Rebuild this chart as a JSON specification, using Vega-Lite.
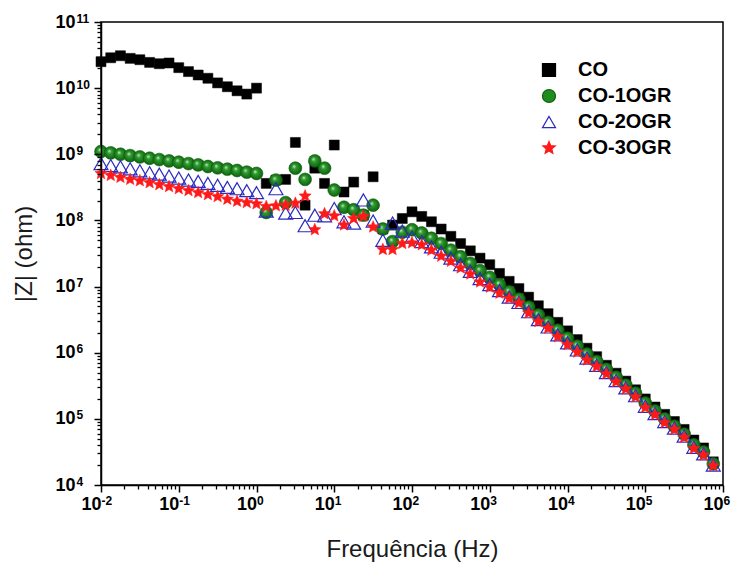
{
  "$schema": "https://vega.github.io/schema/vega-lite/v6.json",
  "width": 622,
  "height": 463,
  "autosize": {"type": "none"},
  "padding": {"left": 101, "top": 22, "right": 17, "bottom": 85},
  "background": "white",
  "config": {
    "view": {"stroke": "#000", "strokeWidth": 1.5},
    "font": "Liberation Sans",
    "axis": {
      "grid": false, "zindex": 1,
      "labelFont": "Liberation Sans", "labelFontWeight": "bold", "labelFontSize": 18, "labelColor": "#000",
      "titleFont": "Liberation Sans", "titleFontWeight": "normal", "titleFontSize": 24, "titleColor": "#1a1a1a",
      "labelOverlap": false
    }
  },
  "resolve": {"axis": {"x": "independent", "y": "independent"}},
  "data": {"values": [
    {"s":"CO","f":0.01,"z":2.51e10},{"s":"CO","f":0.01334,"z":2.88e10},{"s":"CO","f":0.01778,"z":3.09e10},{"s":"CO","f":0.02371,"z":2.82e10},
    {"s":"CO","f":0.03162,"z":2.69e10},{"s":"CO","f":0.04217,"z":2.45e10},{"s":"CO","f":0.05623,"z":2.34e10},{"s":"CO","f":0.07499,"z":2.40e10},
    {"s":"CO","f":0.1,"z":2.04e10},{"s":"CO","f":0.1334,"z":1.78e10},{"s":"CO","f":0.1778,"z":1.58e10},{"s":"CO","f":0.2371,"z":1.41e10},
    {"s":"CO","f":0.3162,"z":1.20e10},{"s":"CO","f":0.4217,"z":1.05e10},{"s":"CO","f":0.5623,"z":9.12e9},{"s":"CO","f":0.7499,"z":8.13e9},
    {"s":"CO","f":1,"z":1.0e10},{"s":"CO","f":1.334,"z":3.63e8},{"s":"CO","f":1.778,"z":4.07e8},{"s":"CO","f":2.371,"z":4.17e8},
    {"s":"CO","f":3.162,"z":1.51e9},{"s":"CO","f":4.217,"z":1.70e8},{"s":"CO","f":5.623,"z":6.17e8},{"s":"CO","f":7.499,"z":3.63e8},
    {"s":"CO","f":10,"z":1.38e9},{"s":"CO","f":13.34,"z":2.69e8},{"s":"CO","f":17.78,"z":3.80e8},{"s":"CO","f":23.71,"z":1.2e8},
    {"s":"CO","f":31.62,"z":4.57e8},{"s":"CO","f":42.17,"z":7.41e7},{"s":"CO","f":56.23,"z":8.5e7},{"s":"CO","f":74.99,"z":1.07e8},
    {"s":"CO","f":100,"z":1.35e8},{"s":"CO","f":133.4,"z":1.15e8},{"s":"CO","f":177.8,"z":9.55e7},{"s":"CO","f":237.1,"z":7.41e7},
    {"s":"CO","f":316.2,"z":5.75e7},{"s":"CO","f":421.7,"z":4.47e7},{"s":"CO","f":562.3,"z":3.47e7},{"s":"CO","f":749.9,"z":2.69e7},
    {"s":"CO","f":1000,"z":2.14e7},{"s":"CO","f":1334,"z":1.58e7},{"s":"CO","f":1778,"z":1.20e7},{"s":"CO","f":2371,"z":9.33e6},
    {"s":"CO","f":3162,"z":6.92e6},{"s":"CO","f":4217,"z":5.13e6},{"s":"CO","f":5623,"z":3.89e6},{"s":"CO","f":7499,"z":2.88e6},
    {"s":"CO","f":10000,"z":2.14e6},{"s":"CO","f":13335,"z":1.58e6},{"s":"CO","f":17783,"z":1.17e6},{"s":"CO","f":23714,"z":8.71e5},
    {"s":"CO","f":31623,"z":6.46e5},{"s":"CO","f":42170,"z":4.90e5},{"s":"CO","f":56234,"z":3.72e5},{"s":"CO","f":74989,"z":2.75e5},
    {"s":"CO","f":100000,"z":2.00e5},{"s":"CO","f":133352,"z":1.51e5},{"s":"CO","f":177828,"z":1.17e5},{"s":"CO","f":237137,"z":9.12e4},
    {"s":"CO","f":316228,"z":6.92e4},{"s":"CO","f":421697,"z":4.79e4},{"s":"CO","f":562341,"z":3.63e4},{"s":"CO","f":749894,"z":2.24e4},

    {"s":"CO-1OGR","f":0.01,"z":1.10e9},{"s":"CO-1OGR","f":0.01334,"z":1.05e9},{"s":"CO-1OGR","f":0.01778,"z":1.00e9},{"s":"CO-1OGR","f":0.02371,"z":9.55e8},
    {"s":"CO-1OGR","f":0.03162,"z":9.12e8},{"s":"CO-1OGR","f":0.04217,"z":8.71e8},{"s":"CO-1OGR","f":0.05623,"z":8.32e8},{"s":"CO-1OGR","f":0.07499,"z":7.94e8},
    {"s":"CO-1OGR","f":0.1,"z":7.59e8},{"s":"CO-1OGR","f":0.1334,"z":7.24e8},{"s":"CO-1OGR","f":0.1778,"z":6.92e8},{"s":"CO-1OGR","f":0.2371,"z":6.53e8},
    {"s":"CO-1OGR","f":0.3162,"z":6.24e8},{"s":"CO-1OGR","f":0.4217,"z":5.96e8},{"s":"CO-1OGR","f":0.5623,"z":5.69e8},{"s":"CO-1OGR","f":0.7499,"z":5.37e8},
    {"s":"CO-1OGR","f":1,"z":5.13e8},{"s":"CO-1OGR","f":1.334,"z":1.32e8},{"s":"CO-1OGR","f":1.778,"z":4.07e8},{"s":"CO-1OGR","f":2.371,"z":1.86e8},
    {"s":"CO-1OGR","f":3.162,"z":6.17e8},{"s":"CO-1OGR","f":4.217,"z":4.17e8},{"s":"CO-1OGR","f":5.623,"z":7.94e8},{"s":"CO-1OGR","f":7.499,"z":6.17e8},
    {"s":"CO-1OGR","f":10,"z":2.88e8},{"s":"CO-1OGR","f":13.34,"z":1.58e8},{"s":"CO-1OGR","f":17.78,"z":1.45e8},{"s":"CO-1OGR","f":23.71,"z":1.20e8},
    {"s":"CO-1OGR","f":31.62,"z":1.70e8},{"s":"CO-1OGR","f":42.17,"z":7.41e7},{"s":"CO-1OGR","f":56.23,"z":4.79e7},{"s":"CO-1OGR","f":74.99,"z":6.61e7},
    {"s":"CO-1OGR","f":100,"z":7.24e7},{"s":"CO-1OGR","f":133.4,"z":6.46e7},{"s":"CO-1OGR","f":177.8,"z":5.37e7},{"s":"CO-1OGR","f":237.1,"z":4.47e7},
    {"s":"CO-1OGR","f":316.2,"z":3.55e7},{"s":"CO-1OGR","f":421.7,"z":2.82e7},{"s":"CO-1OGR","f":562.3,"z":2.24e7},{"s":"CO-1OGR","f":749.9,"z":1.74e7},
    {"s":"CO-1OGR","f":1000,"z":1.38e7},{"s":"CO-1OGR","f":1334,"z":1.07e7},{"s":"CO-1OGR","f":1778,"z":8.32e6},{"s":"CO-1OGR","f":2371,"z":6.46e6},
    {"s":"CO-1OGR","f":3162,"z":4.90e6},{"s":"CO-1OGR","f":4217,"z":3.72e6},{"s":"CO-1OGR","f":5623,"z":2.88e6},{"s":"CO-1OGR","f":7499,"z":2.19e6},
    {"s":"CO-1OGR","f":10000,"z":1.66e6},{"s":"CO-1OGR","f":13335,"z":1.26e6},{"s":"CO-1OGR","f":17783,"z":9.55e5},{"s":"CO-1OGR","f":23714,"z":7.41e5},
    {"s":"CO-1OGR","f":31623,"z":5.62e5},{"s":"CO-1OGR","f":42170,"z":4.27e5},{"s":"CO-1OGR","f":56234,"z":3.24e5},{"s":"CO-1OGR","f":74989,"z":2.45e5},
    {"s":"CO-1OGR","f":100000,"z":1.74e5},{"s":"CO-1OGR","f":133352,"z":1.32e5},{"s":"CO-1OGR","f":177828,"z":1.00e5},{"s":"CO-1OGR","f":237137,"z":7.76e4},
    {"s":"CO-1OGR","f":316228,"z":5.89e4},{"s":"CO-1OGR","f":421697,"z":4.07e4},{"s":"CO-1OGR","f":562341,"z":3.16e4},{"s":"CO-1OGR","f":749894,"z":2.09e4},

    {"s":"CO-2OGR","f":0.01,"z":7.24e8},{"s":"CO-2OGR","f":0.01334,"z":6.76e8},{"s":"CO-2OGR","f":0.01778,"z":6.46e8},{"s":"CO-2OGR","f":0.02371,"z":6.03e8},
    {"s":"CO-2OGR","f":0.03162,"z":5.62e8},{"s":"CO-2OGR","f":0.04217,"z":5.25e8},{"s":"CO-2OGR","f":0.05623,"z":5.01e8},{"s":"CO-2OGR","f":0.07499,"z":4.68e8},
    {"s":"CO-2OGR","f":0.1,"z":4.37e8},{"s":"CO-2OGR","f":0.1334,"z":4.07e8},{"s":"CO-2OGR","f":0.1778,"z":3.89e8},{"s":"CO-2OGR","f":0.2371,"z":3.63e8},
    {"s":"CO-2OGR","f":0.3162,"z":3.39e8},{"s":"CO-2OGR","f":0.4217,"z":3.16e8},{"s":"CO-2OGR","f":0.5623,"z":3.02e8},{"s":"CO-2OGR","f":0.7499,"z":2.82e8},
    {"s":"CO-2OGR","f":1,"z":2.63e8},{"s":"CO-2OGR","f":1.334,"z":1.38e8},{"s":"CO-2OGR","f":1.778,"z":3.02e8},{"s":"CO-2OGR","f":2.371,"z":1.29e8},
    {"s":"CO-2OGR","f":3.162,"z":1.32e8},{"s":"CO-2OGR","f":4.217,"z":8.32e7},{"s":"CO-2OGR","f":5.623,"z":1.20e8},{"s":"CO-2OGR","f":7.499,"z":1.17e8},
    {"s":"CO-2OGR","f":10,"z":1.51e8},{"s":"CO-2OGR","f":13.34,"z":9.55e7},{"s":"CO-2OGR","f":17.78,"z":9.12e7},{"s":"CO-2OGR","f":23.71,"z":2.04e8},
    {"s":"CO-2OGR","f":31.62,"z":9.77e7},{"s":"CO-2OGR","f":42.17,"z":5.01e7},{"s":"CO-2OGR","f":56.23,"z":9.12e7},{"s":"CO-2OGR","f":74.99,"z":6.92e7},
    {"s":"CO-2OGR","f":100,"z":5.62e7},{"s":"CO-2OGR","f":133.4,"z":4.79e7},{"s":"CO-2OGR","f":177.8,"z":3.98e7},{"s":"CO-2OGR","f":237.1,"z":3.31e7},
    {"s":"CO-2OGR","f":316.2,"z":2.69e7},{"s":"CO-2OGR","f":421.7,"z":2.14e7},{"s":"CO-2OGR","f":562.3,"z":1.70e7},{"s":"CO-2OGR","f":749.9,"z":1.32e7},
    {"s":"CO-2OGR","f":1000,"z":1.07e7},{"s":"CO-2OGR","f":1334,"z":8.71e6},{"s":"CO-2OGR","f":1778,"z":6.92e6},{"s":"CO-2OGR","f":2371,"z":5.75e6},
    {"s":"CO-2OGR","f":3162,"z":4.17e6},{"s":"CO-2OGR","f":4217,"z":3.16e6},{"s":"CO-2OGR","f":5623,"z":2.45e6},{"s":"CO-2OGR","f":7499,"z":1.86e6},
    {"s":"CO-2OGR","f":10000,"z":1.41e6},{"s":"CO-2OGR","f":13335,"z":1.10e6},{"s":"CO-2OGR","f":17783,"z":8.32e5},{"s":"CO-2OGR","f":23714,"z":6.46e5},
    {"s":"CO-2OGR","f":31623,"z":5.01e5},{"s":"CO-2OGR","f":42170,"z":3.80e5},{"s":"CO-2OGR","f":56234,"z":2.95e5},{"s":"CO-2OGR","f":74989,"z":2.24e5},
    {"s":"CO-2OGR","f":100000,"z":1.55e5},{"s":"CO-2OGR","f":133352,"z":1.20e5},{"s":"CO-2OGR","f":177828,"z":9.12e4},{"s":"CO-2OGR","f":237137,"z":7.24e4},
    {"s":"CO-2OGR","f":316228,"z":5.50e4},{"s":"CO-2OGR","f":421697,"z":3.72e4},{"s":"CO-2OGR","f":562341,"z":2.95e4},{"s":"CO-2OGR","f":749894,"z":2.00e4},

    {"s":"CO-3OGR","f":0.01,"z":5.13e8},{"s":"CO-3OGR","f":0.01334,"z":4.79e8},{"s":"CO-3OGR","f":0.01778,"z":4.47e8},{"s":"CO-3OGR","f":0.02371,"z":4.17e8},
    {"s":"CO-3OGR","f":0.03162,"z":3.98e8},{"s":"CO-3OGR","f":0.04217,"z":3.72e8},{"s":"CO-3OGR","f":0.05623,"z":3.47e8},{"s":"CO-3OGR","f":0.07499,"z":3.24e8},
    {"s":"CO-3OGR","f":0.1,"z":3.02e8},{"s":"CO-3OGR","f":0.1334,"z":2.82e8},{"s":"CO-3OGR","f":0.1778,"z":2.63e8},{"s":"CO-3OGR","f":0.2371,"z":2.45e8},
    {"s":"CO-3OGR","f":0.3162,"z":2.29e8},{"s":"CO-3OGR","f":0.4217,"z":2.09e8},{"s":"CO-3OGR","f":0.5623,"z":1.95e8},{"s":"CO-3OGR","f":0.7499,"z":1.86e8},
    {"s":"CO-3OGR","f":1,"z":1.78e8},{"s":"CO-3OGR","f":1.334,"z":1.62e8},{"s":"CO-3OGR","f":1.778,"z":1.66e8},{"s":"CO-3OGR","f":2.371,"z":1.70e8},
    {"s":"CO-3OGR","f":3.162,"z":1.82e8},{"s":"CO-3OGR","f":4.217,"z":2.34e8},{"s":"CO-3OGR","f":5.623,"z":7.24e7},{"s":"CO-3OGR","f":7.499,"z":1.26e8},
    {"s":"CO-3OGR","f":10,"z":1.17e8},{"s":"CO-3OGR","f":13.34,"z":8.51e7},{"s":"CO-3OGR","f":17.78,"z":1.07e8},{"s":"CO-3OGR","f":23.71,"z":1.15e8},
    {"s":"CO-3OGR","f":31.62,"z":7.94e7},{"s":"CO-3OGR","f":42.17,"z":3.63e7},{"s":"CO-3OGR","f":56.23,"z":3.63e7},{"s":"CO-3OGR","f":74.99,"z":4.47e7},
    {"s":"CO-3OGR","f":100,"z":4.57e7},{"s":"CO-3OGR","f":133.4,"z":4.27e7},{"s":"CO-3OGR","f":177.8,"z":3.55e7},{"s":"CO-3OGR","f":237.1,"z":2.88e7},
    {"s":"CO-3OGR","f":316.2,"z":2.40e7},{"s":"CO-3OGR","f":421.7,"z":1.91e7},{"s":"CO-3OGR","f":562.3,"z":1.55e7},{"s":"CO-3OGR","f":749.9,"z":1.17e7},
    {"s":"CO-3OGR","f":1000,"z":9.77e6},{"s":"CO-3OGR","f":1334,"z":7.94e6},{"s":"CO-3OGR","f":1778,"z":6.61e6},{"s":"CO-3OGR","f":2371,"z":5.62e6},
    {"s":"CO-3OGR","f":3162,"z":3.98e6},{"s":"CO-3OGR","f":4217,"z":2.95e6},{"s":"CO-3OGR","f":5623,"z":2.34e6},{"s":"CO-3OGR","f":7499,"z":1.74e6},
    {"s":"CO-3OGR","f":10000,"z":1.32e6},{"s":"CO-3OGR","f":13335,"z":1.02e6},{"s":"CO-3OGR","f":17783,"z":7.76e5},{"s":"CO-3OGR","f":23714,"z":6.17e5},
    {"s":"CO-3OGR","f":31623,"z":4.79e5},{"s":"CO-3OGR","f":42170,"z":3.63e5},{"s":"CO-3OGR","f":56234,"z":2.82e5},{"s":"CO-3OGR","f":74989,"z":2.14e5},
    {"s":"CO-3OGR","f":100000,"z":1.48e5},{"s":"CO-3OGR","f":133352,"z":1.15e5},{"s":"CO-3OGR","f":177828,"z":8.71e4},{"s":"CO-3OGR","f":237137,"z":6.92e4},
    {"s":"CO-3OGR","f":316228,"z":5.25e4},{"s":"CO-3OGR","f":421697,"z":3.55e4},{"s":"CO-3OGR","f":562341,"z":2.82e4},{"s":"CO-3OGR","f":749894,"z":1.95e4}
  ]},
  "encoding": {
    "shape": {
      "field": "s", "type": "nominal",
      "scale": {"domain": ["CO","CO-1OGR","CO-2OGR","CO-3OGR"], "range": ["square","circle","triangle-up","M0,-1L0.2645,-0.3641L0.9511,-0.309L0.428,0.1391L0.5878,0.809L0,0.45L-0.5878,0.809L-0.428,0.1391L-0.9511,-0.309L-0.2645,-0.3641Z"]},
      "legend": {"title": null, "orient": "none", "legendX": 438, "legendY": 38, "labelFont": "Liberation Sans", "labelFontWeight": "bold", "labelFontSize": 20, "labelColor": "#000", "symbolSize": 170, "symbolStrokeWidth": 1.2, "labelOffset": 19, "rowPadding": 6, "padding": 0, "symbolOpacity": 1}
    },
    "stroke": {
      "field": "s", "type": "nominal",
      "scale": {"domain": ["CO","CO-1OGR","CO-2OGR","CO-3OGR"], "range": ["#000000","#0f5f0f","#2b2bc0","#ff1a1a"]},
      "legend": {"title": null, "orient": "none", "legendX": 438, "legendY": 38, "labelFont": "Liberation Sans", "labelFontWeight": "bold", "labelFontSize": 20, "labelColor": "#000", "symbolSize": 170, "symbolStrokeWidth": 1.2, "labelOffset": 19, "rowPadding": 6, "padding": 0, "symbolOpacity": 1}
    }
  },
  "layer": [
    {
      "transform": [{"filter": "datum.s == 'CO'"}],
      "mark": {"type": "point", "filled": true, "size": 100, "strokeWidth": 0.5, "opacity": 1},
      "encoding": {
        "x": {"field": "f", "type": "quantitative", "scale": {"type": "log", "domain": [0.01, 1000000], "nice": false},
          "axis": {"orient": "bottom", "zindex": 1, "ticks": true, "tickColor": "#000000", "tickWidth": 1.5, "tickSize": 7, "domainColor": "black", "domainWidth": 1.5, "title": "Frequência (Hz)", "values": [0.01,0.1,1,10,100,1000,10000,100000,1000000], "labelExpr": "'10'", "labelAlign": "right", "labelDx": 4, "labelPadding": 3, "titlePadding": 24}},
        "y": {"field": "z", "type": "quantitative", "scale": {"type": "log", "domain": [10000, 100000000000], "nice": false},
          "axis": {"orient": "left", "zindex": 1, "ticks": true, "tickColor": "#000000", "tickWidth": 1.5, "tickSize": 7, "domainColor": "black", "domainWidth": 1.5, "title": "|Z| (ohm)", "values": [10000,100000,1000000,10000000,100000000,1000000000,10000000000,100000000000], "labelExpr": "'10'", "labelPadding": 19, "titlePadding": 18}},
        "fill": {"field": "s", "type": "nominal", "scale": {"domain": ["CO","CO-1OGR","CO-2OGR","CO-3OGR"], "range": ["#000000","#1e8c1e","transparent","#ff1a1a"]},
          "legend": {"title": null, "orient": "none", "legendX": 438, "legendY": 38, "labelFont": "Liberation Sans", "labelFontWeight": "bold", "labelFontSize": 20, "labelColor": "#000", "symbolSize": 170, "symbolStrokeWidth": 1.2, "labelOffset": 19, "rowPadding": 6, "padding": 0, "symbolOpacity": 1}}
      }
    },
    {
      "transform": [{"filter": "datum.s == 'CO-1OGR'"}],
      "mark": {"type": "point", "filled": true, "size": 165, "strokeWidth": 0.6, "opacity": 1,
        "fill": {"gradient": "radial", "x1": 0.38, "y1": 0.35, "r1": 0, "x2": 0.5, "y2": 0.5, "r2": 0.55,
          "stops": [{"offset": 0, "color": "#d8eed8"}, {"offset": 0.3, "color": "#2e9c2e"}, {"offset": 1, "color": "#0b5a0b"}]}},
      "encoding": {
        "x": {"field": "f", "type": "quantitative",
          "axis": {"orient": "bottom", "zindex": 1, "ticks": true, "tickColor": "#000000", "tickWidth": 1.3, "title": null, "domain": false, "labels": false, "tickSize": 4,
            "values": [0.02,0.03,0.04,0.05,0.06,0.07,0.08,0.09,0.2,0.3,0.4,0.5,0.6,0.7,0.8,0.9,2,3,4,5,6,7,8,9,20,30,40,50,60,70,80,90,200,300,400,500,600,700,800,900,2000,3000,4000,5000,6000,7000,8000,9000,20000,30000,40000,50000,60000,70000,80000,90000,200000,300000,400000,500000,600000,700000,800000,900000]}},
        "y": {"field": "z", "type": "quantitative",
          "axis": {"orient": "left", "zindex": 1, "ticks": true, "tickColor": "#000000", "tickWidth": 1.3, "title": null, "domain": false, "labels": false, "tickSize": 4,
            "values": [20000,30000,40000,50000,60000,70000,80000,90000,200000,300000,400000,500000,600000,700000,800000,900000,2000000,3000000,4000000,5000000,6000000,7000000,8000000,9000000,20000000,30000000,40000000,50000000,60000000,70000000,80000000,90000000,200000000,300000000,400000000,500000000,600000000,700000000,800000000,900000000,2000000000,3000000000,4000000000,5000000000,6000000000,7000000000,8000000000,9000000000,20000000000,30000000000,40000000000,50000000000,60000000000,70000000000,80000000000,90000000000]}}
      }
    },
    {
      "transform": [{"filter": "datum.s == 'CO-2OGR'"}],
      "mark": {"type": "point", "filled": true, "size": 195, "strokeWidth": 1.2, "opacity": 1},
      "encoding": {
        "x": {"field": "f", "type": "quantitative",
          "axis": {"orient": "bottom", "zindex": 1, "title": null, "domain": false, "ticks": false, "labelPadding": 10, "labelFontSize": 12, "labelAlign": "left", "labelDx": 5, "labelDy": -4,
            "values": [0.01,0.1,1,10,100,1000,10000,100000,1000000],
            "labelExpr": "(round(log(datum.value)/LN10) < 0 ? '-' : '') + abs(round(log(datum.value)/LN10))"}},
        "y": {"field": "z", "type": "quantitative",
          "axis": {"orient": "left", "zindex": 1, "title": null, "domain": false, "ticks": false, "labelPadding": 25, "labelFontSize": 12, "labelAlign": "left", "labelBaseline": "alphabetic", "labelDy": -1,
            "values": [10000,100000,1000000,10000000,100000000,1000000000,10000000000,100000000000],
            "labelExpr": "'' + round(log(datum.value)/LN10)"}},
        "fill": {"field": "s", "type": "nominal"}
      }
    },
    {
      "transform": [{"filter": "datum.s == 'CO-3OGR'"}],
      "mark": {"type": "point", "filled": true, "size": 165, "strokeWidth": 0.5, "opacity": 1},
      "encoding": {
        "x": {"field": "f", "type": "quantitative", "axis": null},
        "y": {"field": "z", "type": "quantitative", "axis": null},
        "fill": {"field": "s", "type": "nominal"}
      }
    }
  ]
}
